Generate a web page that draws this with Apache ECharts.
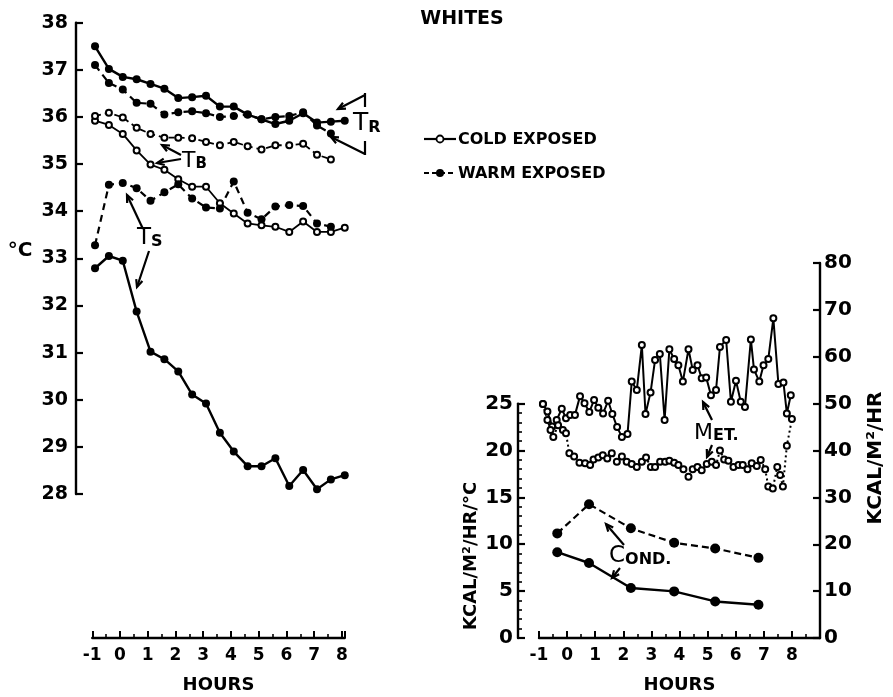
<!DOCTYPE html>
<html><head><meta charset="utf-8">
<script src="https://cdn.jsdelivr.net/npm/echarts@6/dist/echarts.min.js"></script>
<style>html,body{margin:0;padding:0;background:#fff}#c{width:893px;height:697px}</style>
</head><body><div id="c"></div>
<script>
// ---------- DATA ----------
const leftHours = [-0.9,-0.4,0.1,0.6,1.1,1.6,2.1,2.6,3.1,3.6,4.1,4.6,5.1,5.6,6.1,6.6,7.1,7.6,8.1];
// Rectal temperature (TR)
const rectalCold = [37.5,37.02,36.85,36.8,36.7,36.6,36.4,36.42,36.45,36.22,36.22,36.05,35.95,35.85,35.92,36.08,35.88,35.9,35.92];
const rectalWarm = [37.1,36.72,36.58,36.3,36.28,36.05,36.1,36.12,36.08,36.0,36.02,36.05,35.95,36.0,36.02,36.1,35.82,35.65];
// Mean body temperature (TB)
const bodyCold = [35.92,35.83,35.64,35.29,34.99,34.88,34.68,34.52,34.52,34.17,33.95,33.74,33.7,33.67,33.56,33.78,33.56,33.56,33.65];
const bodyWarm = [36.02,36.09,35.99,35.77,35.64,35.56,35.56,35.55,35.47,35.4,35.47,35.38,35.31,35.4,35.4,35.43,35.2,35.1];
// Mean skin temperature (TS)
const skinCold = [32.79,33.05,32.95,31.87,31.02,30.86,30.6,30.11,29.92,29.3,28.9,28.59,28.59,28.76,28.17,28.51,28.1,28.31,28.4];
const skinWarm = [33.28,34.56,34.6,34.49,34.22,34.4,34.57,34.27,34.08,34.06,34.63,33.97,33.83,34.1,34.13,34.11,33.74,33.67];

// Conductance (left axis, KCAL/M2/HR/C)
const condHours = [-0.35,0.78,2.27,3.81,5.27,6.81];
const condCold = [9.15,8.0,5.33,4.97,3.9,3.54];
const condWarm = [11.16,14.27,11.7,10.16,9.55,8.55];

// Metabolism (right axis, KCAL/M2/HR)
const metColdHours = [-0.86,-0.70,-0.53,-0.37,-0.19,-0.04,0.11,0.28,0.46,0.62,0.79,0.96,1.11,1.28,1.46,1.61,1.78,1.95,2.15,2.30,2.48,2.66,2.79,2.97,3.13,3.30,3.47,3.64,3.81,3.96,4.12,4.32,4.47,4.64,4.79,4.95,5.12,5.30,5.44,5.66,5.83,6.01,6.18,6.33,6.54,6.65,6.84,6.99,7.16,7.34,7.52,7.70,7.82,7.96];
const metCold = [49.9,48.3,45.1,46.5,48.9,46.9,47.6,47.6,51.6,50.1,48.2,50.8,49.1,47.9,50.6,47.8,45.0,42.9,43.5,54.7,52.9,62.5,47.8,52.4,59.3,60.6,46.5,61.6,59.5,58.2,54.7,61.6,57.2,58.2,55.4,55.6,51.8,52.9,62.1,63.6,50.4,54.9,50.4,49.3,63.7,57.3,54.7,58.2,59.5,68.2,54.2,54.5,47.9,51.8];
const metWarmHours = [-0.86,-0.70,-0.59,-0.49,-0.32,-0.15,-0.04,0.08,0.25,0.44,0.64,0.82,0.94,1.11,1.27,1.43,1.59,1.77,1.95,2.12,2.30,2.48,2.66,2.81,2.98,3.13,3.31,3.49,3.64,3.81,3.96,4.14,4.32,4.47,4.64,4.79,4.97,5.15,5.30,5.44,5.59,5.74,5.92,6.10,6.25,6.42,6.57,6.75,6.89,7.05,7.16,7.32,7.48,7.58,7.68,7.82,8.00];
const metWarm = [49.9,46.5,44.4,42.9,45.4,44.4,43.7,39.4,38.7,37.4,37.3,36.9,38.1,38.5,39.0,38.3,39.4,37.6,38.7,37.6,37.1,36.5,37.6,38.5,36.5,36.5,37.6,37.6,37.8,37.4,36.9,36.0,34.4,36.0,36.5,35.8,37.1,37.6,36.9,40.0,38.1,37.8,36.5,36.9,36.9,36.0,37.3,36.7,38.0,36.0,32.3,31.9,36.5,34.8,32.3,41.0,46.7];

// ---------- CHART ----------
const pairs = (xs, ys) => ys.map((v, i) => [xs[i], v]);
const FONT = 'DejaVu Sans';
const K = '#000';

function xAxisCfg(grid, min, max, offset) {
  return {
    type: 'value', gridIndex: grid, min: min, max: max, interval: 1, offset: offset,
    axisLine: {show: true, onZero: false, lineStyle: {color: K, width: 2.4}},
    axisTick: {show: true, inside: true, length: 7, lineStyle: {color: K, width: 2}},
    minorTick: {show: true, splitNumber: 2, length: 4, lineStyle: {color: K, width: 1.6}},
    splitLine: {show: false},
    axisLabel: {color: K, fontFamily: FONT, fontSize: 17, fontWeight: 'bold', margin: 9, showMaxLabel: false},
    name: 'HOURS', nameLocation: 'middle', nameGap: 38,
    nameTextStyle: {color: K, fontFamily: FONT, fontSize: 18, fontWeight: 'bold'}
  };
}
function yAxisCfg(grid, pos, min, max, interval, offset, fontSize, margin, minor) {
  return {
    type: 'value', gridIndex: grid, position: pos, min: min, max: max, interval: interval, offset: offset,
    axisLine: {show: true, onZero: false, lineStyle: {color: K, width: 2.4}},
    axisTick: {show: true, inside: true, length: 7, lineStyle: {color: K, width: 2.2}},
    minorTick: {show: !!minor, splitNumber: minor || 5, length: 4, lineStyle: {color: K, width: 1.6}},
    splitLine: {show: false},
    axisLabel: {color: K, fontFamily: FONT, fontSize: fontSize, fontWeight: 'bold', margin: margin}
  };
}

function lineSeries(name, xi, yi, data, dashed, sym, size, width) {
  return {
    name: name, type: 'line', xAxisIndex: xi, yAxisIndex: yi, data: data,
    symbol: sym, symbolSize: size, clip: false, animation: false,
    lineStyle: {color: K, width: width, type: dashed || 'solid'},
    itemStyle: {color: K, borderColor: K, borderWidth: sym === 'emptyCircle' ? 1.6 : 0},
    emphasis: {disabled: true}
  };
}

function arrow(pts) {
  const n = pts.length;
  const [x1, y1] = pts[n - 2], [x2, y2] = pts[n - 1];
  const a = Math.atan2(y2 - y1, x2 - x1), L = 8, w = 0.42;
  return [
    {type: 'polyline', shape: {points: pts}, style: {stroke: K, lineWidth: 2.2, fill: null}},
    {type: 'polyline', shape: {points: [[x2 - L * Math.cos(a - w), y2 - L * Math.sin(a - w)], [x2, y2], [x2 - L * Math.cos(a + w), y2 - L * Math.sin(a + w)]]},
     style: {stroke: K, lineWidth: 2.2, fill: null}}
  ];
}
function txt(text, x, y, size, opts) {
  return {type: 'text', style: Object.assign({text: text, x: x, y: y, fill: K, fontFamily: FONT, fontSize: size, align: 'left', verticalAlign: 'middle'}, opts || {})};
}
function subTxt(big, small, x, y, bs, ss) {
  return {type: 'text', style: {text: '{a|' + big + '}{b|' + small + '}', x: x, y: y, align: 'left', verticalAlign: 'bottom', fill: K,
    rich: {a: {fontFamily: FONT, fontSize: bs, verticalAlign: 'bottom', fill: K}, b: {fontFamily: FONT, fontSize: ss, fontWeight: 'bold', verticalAlign: 'bottom', fill: K}}}};
}

const graphics = [].concat(
  [txt('WHITES', 462, 19, 19, {align: 'center', fontWeight: 'bold'})],
  [txt('°C', 20, 251, 20, {align: 'center', fontWeight: 'bold'})],
  // legend
  [{type: 'line', shape: {x1: 424, y1: 139, x2: 456, y2: 139}, style: {stroke: K, lineWidth: 2.2}},
   {type: 'circle', shape: {cx: 440, cy: 139, r: 3.5}, style: {fill: '#fff', stroke: K, lineWidth: 1.8}},
   txt('COLD EXPOSED', 458, 140, 16, {fontWeight: 'bold'}),
   {type: 'line', shape: {x1: 424, y1: 173, x2: 456, y2: 173}, style: {stroke: K, lineWidth: 2.2, lineDash: [5, 3]}},
   {type: 'circle', shape: {cx: 440, cy: 173, r: 4}, style: {fill: K}},
   txt('WARM EXPOSED', 458, 174, 16, {fontWeight: 'bold'})],
  // TR bracket
  [{type: 'line', shape: {x1: 365, y1: 93, x2: 365, y2: 107}, style: {stroke: K, lineWidth: 2.2}},
   {type: 'line', shape: {x1: 365, y1: 141, x2: 365, y2: 155}, style: {stroke: K, lineWidth: 2.2}}],
  arrow([[365, 95], [338, 109]]),
  arrow([[365, 154], [331, 137]]),
  [subTxt('T', 'R', 353, 136, 25, 16)],
  // TB
  arrow([[181, 155], [162, 145]]),
  arrow([[181, 159], [157, 163]]),
  [subTxt('T', 'B', 182, 172, 22, 15)],
  // TS
  arrow([[143, 229], [127, 195]]),
  arrow([[149, 251], [137, 287]]),
  [subTxt('T', 'S', 137, 250, 23, 16)],
  // MET.
  [subTxt('M', 'ET.', 694, 444, 22, 16)],
  arrow([[712, 420], [707, 410], [703, 402]]),
  arrow([[712, 445], [707, 457]]),
  // COND.
  [subTxt('C', 'OND.', 609, 568, 23, 16)],
  arrow([[624, 545], [606, 524]]),
  arrow([[620, 568], [612, 578]]),
  // rotated axis titles
  [{type: 'text', rotation: Math.PI / 2, x: 471, y: 556, style: {text: 'KCAL/M²/HR/°C', x: 0, y: 0, align: 'center', verticalAlign: 'middle', fill: K, fontFamily: FONT, fontSize: 18, fontWeight: 'bold'}},
   {type: 'text', rotation: Math.PI / 2, x: 876, y: 458, style: {text: 'KCAL/M²/HR', x: 0, y: 0, align: 'center', verticalAlign: 'middle', fill: K, fontFamily: FONT, fontSize: 20, fontWeight: 'bold'}}]
);

const option = {
  backgroundColor: '#fff',
  animation: false,
  grid: [
    {left: 92.25, top: 22.7, width: 252.5, height: 471.3, outerBoundsMode: 'none'},
    {left: 539, top: 263, width: 281, height: 375, outerBoundsMode: 'none'},
    {left: 539, top: 403.6, width: 281, height: 234.4, outerBoundsMode: 'none'}
  ],
  xAxis: [
    xAxisCfg(0, -1, 8.1, 144),
    xAxisCfg(1, -1, 9, 0),
    {type: 'value', gridIndex: 2, min: -1, max: 9, show: false}
  ],
  yAxis: [
    yAxisCfg(0, 'left', 28, 38, 1, 16.25, 19, 8, 0),
    {type: 'value', gridIndex: 1, position: 'left', min: 0, max: 40, show: false},
    yAxisCfg(1, 'right', 0, 80, 10, 0, 20, 4, 0),
    yAxisCfg(2, 'left', 0, 25, 5, 21, 20, 5, 5)
  ],
  series: [
    lineSeries('TR cold', 0, 0, pairs(leftHours, rectalCold), 'solid', 'circle', 8, 2.4),
    lineSeries('TR warm', 0, 0, pairs(leftHours, rectalWarm), [7, 5], 'circle', 8, 2.2),
    lineSeries('TB cold', 0, 0, pairs(leftHours, bodyCold), 'solid', 'emptyCircle', 6, 1.8),
    lineSeries('TB warm', 0, 0, pairs(leftHours, bodyWarm), [6, 4], 'emptyCircle', 6, 1.8),
    lineSeries('TS cold', 0, 0, pairs(leftHours, skinCold), 'solid', 'circle', 8, 2.4),
    lineSeries('TS warm', 0, 0, pairs(leftHours, skinWarm), [7, 5], 'circle', 8, 2.2),
    lineSeries('COND cold', 1, 1, pairs(condHours, condCold), 'solid', 'circle', 10, 2.4),
    lineSeries('COND warm', 1, 1, pairs(condHours, condWarm), [7, 4], 'circle', 10, 2.2),
    lineSeries('MET cold', 1, 2, pairs(metColdHours, metCold), 'solid', 'emptyCircle', 6, 2),
    lineSeries('MET warm', 1, 2, pairs(metWarmHours, metWarm), [2, 3], 'emptyCircle', 6, 2)
  ],
  graphic: graphics
};

const chart = echarts.init(document.getElementById('c'), null, {renderer: 'canvas'});
chart.setOption(option);
</script>
</body></html>
